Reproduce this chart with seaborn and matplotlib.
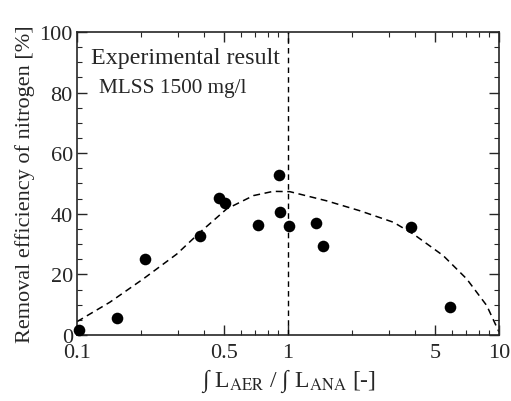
import numpy as np
import pandas as pd
import matplotlib
matplotlib.use("Agg")
import matplotlib.pyplot as plt
from matplotlib.ticker import FixedLocator, FixedFormatter, MultipleLocator, LogLocator, NullFormatter
import seaborn as sns

# measured points
ratio = [0.102, 0.155, 0.211, 0.383, 0.472, 0.505, 0.721, 0.910, 0.920, 1.008, 1.36, 1.47, 3.81, 5.86]
removal = [1.8, 5.6, 25.0, 32.7, 45.2, 43.6, 36.3, 52.9, 40.6, 36.1, 36.9, 29.5, 35.5, 9.1]

# dashed trend curve
curve_x = [0.1, 0.143, 0.206, 0.297, 0.383, 0.512, 0.686, 0.851, 1.02, 1.52, 2.19, 3.16, 3.93, 5.44, 7.03, 8.75, 10.0]
curve_y = [4.4, 10.8, 18.5, 26.7, 33.9, 41.6, 46.0, 47.4, 47.3, 44.3, 41.0, 37.2, 33.3, 26.2, 18.5, 9.7, 1.0]

x_ticks = [0.1, 0.5, 1, 5, 10]
x_labels = ["0.1", "0.5", "1", "5", "10"]

sns.set_style("ticks")
plt.rcParams["font.family"] = ["Liberation Serif", "DejaVu Serif"]
plt.rcParams["mathtext.fontset"] = "stix"

pts = pd.DataFrame({"ratio": ratio, "removal": removal})
trend = pd.DataFrame({"ratio": curve_x, "removal": curve_y})

fig = plt.figure(figsize=(5.11, 4.02), dpi=100)
ax = fig.add_axes([0.1507, 0.1642, 0.8258, 0.7538])

sns.lineplot(data=trend, x="ratio", y="removal", ax=ax, color="black",
             linestyle=(0, (4.5, 3)), linewidth=1.1, sort=False)
ax.axvline(1, color="black", linestyle=(0, (4, 3)), linewidth=1.0)
sns.scatterplot(data=pts, x="ratio", y="removal", ax=ax, color="black",
                s=70, edgecolor="black", linewidth=0, zorder=5, clip_on=False)

ax.set_xscale("log")
ax.set_xlim(0.1, 10)
ax.set_ylim(0, 100)
ax.xaxis.set_major_locator(FixedLocator(x_ticks))
ax.xaxis.set_major_formatter(FixedFormatter(x_labels))
ax.xaxis.set_minor_locator(LogLocator(base=10, subs=np.arange(1, 10)))
ax.xaxis.set_minor_formatter(NullFormatter())
ax.yaxis.set_major_locator(MultipleLocator(20))
ax.yaxis.set_minor_locator(MultipleLocator(5))

ax.tick_params(which="both", direction="in", top=True, right=True, labelsize=16)
ax.tick_params(which="major", length=7, width=1)
ax.tick_params(which="minor", length=3.5, width=0.8)
ax.tick_params(axis="x", pad=6)
ax.tick_params(axis="y", pad=3)
for lab in ax.get_yticklabels():
    lab.set_verticalalignment("center_baseline")
for s in ax.spines.values():
    s.set_linewidth(1.2)

ax.set_ylabel("Removal efficiency of nitrogen [%]", fontsize=16, labelpad=3)
ax.set_xlabel(r"∫ L$_{\mathrm{AER}}$ / ∫ L$_{\mathrm{ANA}}$ [-]", fontsize=17, labelpad=3)

ax.text(0.032, 0.898, "Experimental result", transform=ax.transAxes, fontsize=17.3, va="baseline", ha="left")
ax.text(0.052, 0.801, "MLSS 1500 mg/l", transform=ax.transAxes, fontsize=15.3, va="baseline", ha="left")

fig.savefig("out.png", dpi=100)
